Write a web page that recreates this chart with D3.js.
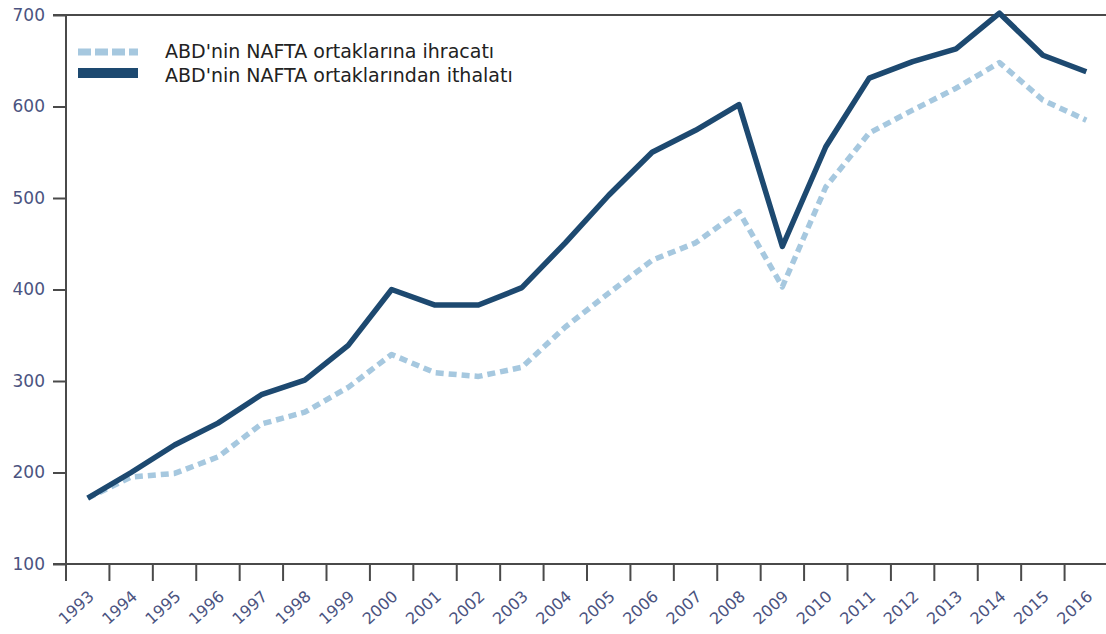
<!DOCTYPE html>
<html>
<head>
<meta charset="utf-8">
<script src="https://cdn.jsdelivr.net/npm/d3@7"></script>
<style>
  body { margin: 0; background: #fff; }
  svg { display: block; font-family: "DejaVu Sans", sans-serif; }
</style>
</head>
<body>
<svg width="1106" height="634"></svg>
<script>
let years = d3.range(1993, 2017)

// ABD'nin NAFTA ortaklarına ihracatı (milyar $)
let exports = [172, 195, 199, 217, 253, 266, 293, 329, 309, 305, 315, 359,
    396, 432, 451, 485, 403, 512, 571, 596, 620, 648, 607, 585]

// ABD'nin NAFTA ortaklarından ithalatı
let imports = [172, 200, 230, 254, 285, 301, 339, 400, 383, 383, 402, 451,
    503, 550, 574, 602, 447, 556, 631, 649, 663, 702, 656, 638]

let yTicks = [100, 200, 300, 400, 500, 600, 700]

let series = [
    { name: "ABD'nin NAFTA ortaklarına ihracatı", values: exports, color: '#a6c8df', dash: '8,5', legendDash: '13,4', width: 5.5, legendWidth: 7 },
    { name: "ABD'nin NAFTA ortaklarından ithalatı", values: imports, color: '#1d4970', dash: null, legendDash: null, width: 5.5, legendWidth: 10 }
]

let svg = d3.select('svg')

let x = d3.scaleBand().domain(years).range([66, 1108])
let y = d3.scaleLinear().domain([100, 700]).range([564, 15])

let axisColor = '#4a4a4a'

// top border + bottom axis line
svg.append('line')
    .attr('x1', 53).attr('x2', 1106)
    .attr('y1', y(700)).attr('y2', y(700))
    .attr('stroke', axisColor).attr('stroke-width', 2)
svg.append('line')
    .attr('x1', 53).attr('x2', 1106)
    .attr('y1', y(100)).attr('y2', y(100))
    .attr('stroke', axisColor).attr('stroke-width', 2)
svg.append('line')
    .attr('x1', 66).attr('x2', 66)
    .attr('y1', y(700)).attr('y2', y(100))
    .attr('stroke', axisColor).attr('stroke-width', 2)

// y axis
let yAxis = svg.append('g')
    .attr('transform', 'translate(66,0)')
    .call(d3.axisLeft(y).tickValues(yTicks).tickSize(13).tickPadding(8))
yAxis.select('.domain').remove()
yAxis.selectAll('.tick line').attr('stroke', axisColor).attr('stroke-width', 2)
yAxis.selectAll('.tick text')
    .attr('font-size', 17)
    .attr('fill', '#4b5380')
    .attr('font-family', '"DejaVu Sans", sans-serif')

// x axis: ticks on band edges
let xAxis = svg.append('g')
    .attr('transform', `translate(${-x.bandwidth() / 2},${y(100)})`)
    .call(d3.axisBottom(x).tickSize(17).tickFormat(''))
xAxis.select('.domain').remove()
xAxis.selectAll('.tick line').attr('stroke', axisColor).attr('stroke-width', 2)

svg.append('g')
    .selectAll('text')
    .data(years)
    .enter()
    .append('text')
    .attr('transform', d => `translate(${x(d) + 29},${598}) rotate(-42)`)
    .attr('text-anchor', 'end')
    .attr('font-size', 16)
    .attr('fill', '#4b5380')
    .text(d => d)

// lines
let line = d3.line()
    .x((d, i) => x(years[i]) + x.bandwidth() / 2)
    .y(d => y(d))

svg.selectAll('path.series')
    .data(series)
    .enter()
    .append('path')
    .attr('class', 'series')
    .attr('d', d => line(d.values))
    .attr('fill', 'none')
    .attr('stroke', d => d.color)
    .attr('stroke-width', d => d.width)
    .attr('stroke-dasharray', d => d.dash)
    .attr('stroke-linejoin', 'round')

// legend
let legend = svg.append('g').attr('class', 'legend')

legend.selectAll('line')
    .data(series)
    .enter()
    .append('line')
    .attr('x1', 78).attr('x2', 138)
    .attr('y1', (d, i) => 52 + i * 21)
    .attr('y2', (d, i) => 52 + i * 21)
    .attr('stroke', d => d.color)
    .attr('stroke-width', d => d.legendWidth)
    .attr('stroke-dasharray', d => d.legendDash)

legend.selectAll('text')
    .data(series)
    .enter()
    .append('text')
    .attr('x', 165)
    .attr('y', (d, i) => 58 + i * 24)
    .attr('font-size', 19)
    .attr('fill', '#222')
    .text(d => d.name)
</script>
</body>
</html>
